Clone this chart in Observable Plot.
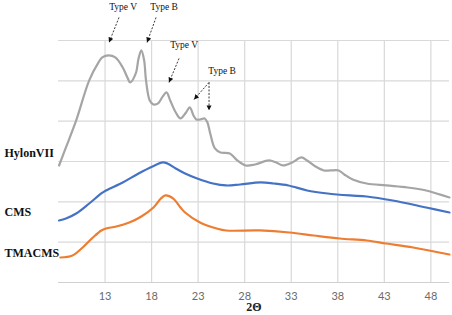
<!DOCTYPE html>
<html>
<head>
<meta charset="utf-8">
<script src="https://cdn.jsdelivr.net/npm/d3@7"></script>
<script src="https://cdn.jsdelivr.net/npm/@observablehq/plot@0.6"></script>
<style>
  html, body { margin: 0; padding: 0; background: #fff; }
  #chart svg { display: block; }
</style>
</head>
<body>
<div id="chart"></div>
<script>
// XRD diffractograms (intensity, arbitrary units) against 2θ
const hylonX = [8.06, 8.8, 9.9, 11.3, 12.3, 12.7, 13.4, 14.1, 14.9, 15.4, 15.7, 16.3, 16.6, 16.9, 17.2, 17.4, 17.8, 18.2, 18.7, 19.2, 19.6, 20.0, 20.6, 21.1, 21.7, 22.1, 22.5, 22.8, 23.2, 23.7, 24.0, 24.3, 24.8, 25.4, 26.4, 27.2, 28.1, 29.1, 30.6, 31.4, 32.1, 33.1, 34.1, 34.7, 35.6, 36.5, 37.2, 38.1, 38.7, 39.6, 41.1, 43.2, 45.5, 47.5, 48.6, 50];
const hylonY = [2901, 3348, 4018, 5010, 5456, 5580, 5630, 5580, 5332, 5084, 4960, 5183, 5555, 5754, 5506, 5010, 4514, 4414, 4439, 4613, 4712, 4514, 4216, 4067, 4216, 4340, 4142, 4042, 4042, 4067, 3968, 3695, 3323, 3224, 3199, 3026, 2902, 2926, 3026, 2976, 2902, 2976, 3100, 3026, 2877, 2778, 2778, 2778, 2678, 2554, 2455, 2406, 2356, 2282, 2207, 2108];

const cmsX = [8.06, 8.8, 9.9, 11.3, 12.6, 13.1, 14.9, 16.6, 18.1, 19.2, 19.7, 20.6, 21.6, 22.9, 24.6, 26.0, 27.5, 29.7, 31.1, 32.7, 34.7, 36.9, 39.3, 41.1, 43.9, 47.5, 50];
const cmsY = [1538, 1587, 1711, 1959, 2207, 2282, 2480, 2703, 2877, 2976, 2951, 2827, 2703, 2579, 2455, 2406, 2430, 2480, 2455, 2406, 2282, 2207, 2158, 2133, 2034, 1860, 1736];

const tmaX = [8.2, 9.5, 10.6, 11.7, 12.6, 13.1, 14.2, 15.6, 16.9, 18.2, 19.0, 19.5, 20.3, 21.1, 21.6, 23.2, 25.0, 26.0, 29.6, 32.8, 35.4, 38.2, 41.1, 43.2, 46.1, 50];
const tmaY = [620, 670, 868, 1116, 1290, 1339, 1389, 1488, 1637, 1860, 2083, 2158, 2083, 1860, 1736, 1488, 1339, 1290, 1290, 1240, 1166, 1091, 1042, 967, 868, 694];

// sample names, with the intensity level each name sits at
const sampleNames = ["HylonVII", "CMS", "TMACMS"];
const sampleLevels = [3199, 1736, 719];

// x tick values
const xTicks = [13, 18, 23, 28, 33, 38, 43, 48];

// peak annotations: label text and its anchor
const noteText = ["Type V", "Type B", "Type V", "Type B"];
const noteX = [14.94, 19.34, 21.49, 25.57];
const noteY = [6820, 6820, 5878, 5233];

// arrows from labels to the peaks they name
const arrowX1 = [14.5, 18.48, 20.95, 24.17, 24.17];
const arrowY1 = [6572, 6572, 5555, 4960, 4960];
const arrowX2 = [13.43, 17.51, 19.87, 22.56, 24.17];
const arrowY2 = [5952, 5952, 4960, 4538, 4266];

const toPoints = (xs, ys) => xs.map((x, i) => ({x, y: ys[i]}));
const hylon = toPoints(hylonX, hylonY);
const cms = toPoints(cmsX, cmsY);
const tma = toPoints(tmaX, tmaY);
const notes = noteText.map((t, i) => ({t, x: noteX[i], y: noteY[i]}));
const arrows = arrowX1.map((_, i) => ({x1: arrowX1[i], y1: arrowY1[i], x2: arrowX2[i], y2: arrowY2[i]}));
const samples = sampleNames.map((n, i) => ({n, y: sampleLevels[i]}));

const serif = "'Liberation Serif', 'Times New Roman', serif";
const gridColor = "#d9d9d9";

const chart = Plot.plot({
  width: 452,
  height: 315,
  marginLeft: 58,
  marginRight: 3,
  marginTop: 40,
  marginBottom: 33,
  style: {background: "#fff", fontFamily: "Lato, 'Open Sans', sans-serif", overflow: "visible"},
  x: {domain: [8, 50], axis: null},
  y: {domain: [0, 6000], axis: null},
  marks: [
    Plot.gridY(d3.range(1000, 7000, 1000), {stroke: gridColor, strokeOpacity: 1, strokeWidth: 1.2}),
    Plot.gridX(xTicks, {stroke: gridColor, strokeOpacity: 1, strokeWidth: 1.2}),
    Plot.ruleY([0], {stroke: "#d0d0d0", strokeWidth: 1.2}),
    Plot.axisX(xTicks, {tickSize: 0, tickPadding: 10, fontSize: 11, fill: "#6b6b6b", label: null}),
    Plot.line(hylon, {x: "x", y: "y", stroke: "#a5a5a5", strokeWidth: 2.2, curve: "catmull-rom"}),
    Plot.line(cms, {x: "x", y: "y", stroke: "#4472c4", strokeWidth: 2.2, curve: "catmull-rom"}),
    Plot.line(tma, {x: "x", y: "y", stroke: "#ed7d31", strokeWidth: 2.2, curve: "catmull-rom"}),
    Plot.link(arrows, {x1: "x1", y1: "y1", x2: "x2", y2: "y2", stroke: "#222", strokeWidth: 0.9, strokeDasharray: "2,1.5"}),
    Plot.text(notes, {x: "x", y: "y", text: "t", fontFamily: serif, fontSize: 9.5, fill: "#111"}),
    Plot.text(samples, {y: "y", text: "n", frameAnchor: "left", dx: -54, textAnchor: "start",
      fontFamily: serif, fontWeight: "bold", fontSize: 12, fill: "#111"}),
    Plot.text(["2Θ"], {frameAnchor: "bottom", dy: 28, text: (d) => d, fontFamily: serif,
      fontWeight: "bold", fontSize: 12, fill: "#222", lineAnchor: "bottom"})
  ]
});

// filled arrowheads on the annotation links
const ns = "http://www.w3.org/2000/svg";
const defs = document.createElementNS(ns, "defs");
const marker = document.createElementNS(ns, "marker");
marker.setAttribute("id", "peak-head");
marker.setAttribute("viewBox", "-5 -3 5 6");
marker.setAttribute("markerUnits", "userSpaceOnUse");
marker.setAttribute("markerWidth", "5");
marker.setAttribute("markerHeight", "6");
marker.setAttribute("refX", "0");
marker.setAttribute("refY", "0");
marker.setAttribute("orient", "auto");
const head = document.createElementNS(ns, "path");
head.setAttribute("d", "M-5,-2.5L0,0L-5,2.5Z");
head.setAttribute("fill", "#111");
head.setAttribute("stroke", "none");
head.setAttribute("stroke-dasharray", "none");
marker.appendChild(head);
defs.appendChild(marker);
chart.insertBefore(defs, chart.firstChild);
chart.querySelectorAll('g[aria-label="link"] path').forEach((p) => p.setAttribute("marker-end", "url(#peak-head)"));

document.getElementById("chart").appendChild(chart);
</script>
</body>
</html>
